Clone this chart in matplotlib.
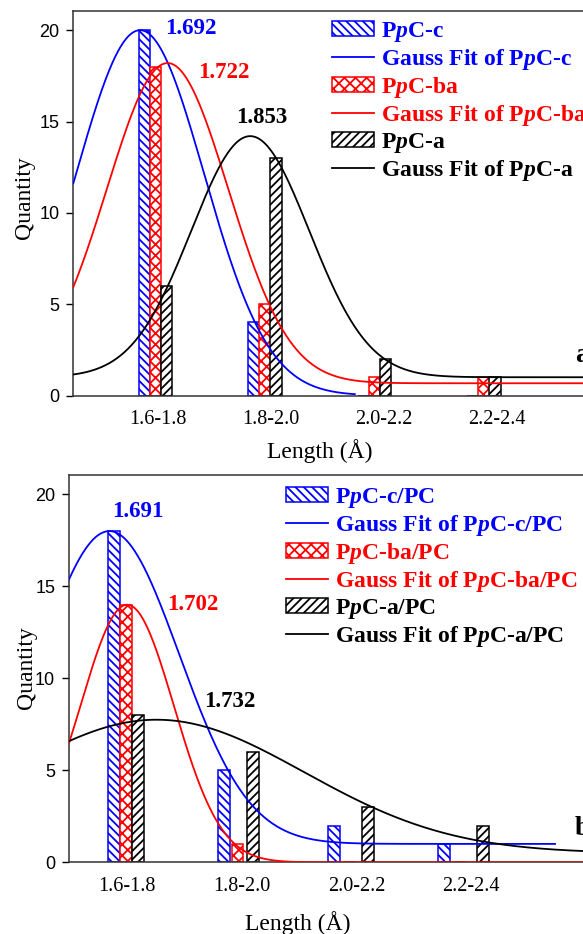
import numpy as np
import matplotlib
matplotlib.use('Agg')
import matplotlib.pyplot as plt

plt.rcParams['font.family'] = 'Liberation Serif'
plt.rcParams['mathtext.fontset'] = 'custom'
plt.rcParams['mathtext.it'] = 'Liberation Serif:italic:bold'
plt.rcParams['mathtext.rm'] = 'Liberation Serif:bold'
plt.rcParams['hatch.linewidth'] = 1.3

# bond length bins (Angstrom) and their centres
bins = ['1.6-1.8', '1.8-2.0', '2.0-2.2', '2.2-2.4']
bin_centers = [1.7, 1.9, 2.1, 2.3]

# panel a: counts per bin
a_names = ['P$p$C-c', 'P$p$C-ba', 'P$p$C-a']
a_counts_c = [20, 4, 0, 0]
a_counts_ba = [18, 5, 1, 1]
a_counts_a = [6, 13, 2, 1]
# panel a: Gauss fit parameters (centre, sigma, height, offset)
a_fit_xc = [1.692, 1.722, 1.853]
a_fit_w = [0.117, 0.111, 0.108]
a_fit_A = [20.0, 17.53, 13.2]
a_fit_y0 = [0.0, 0.67, 1.0]

# panel b
b_names = ['P$p$C-c/PC', 'P$p$C-ba/PC', 'P$p$C-a/PC']
b_counts_c = [18, 5, 2, 1]
b_counts_ba = [14, 1, 0, 0]
b_counts_a = [8, 6, 3, 2]
b_fit_xc = [1.691, 1.702, 1.732]
b_fit_w = [0.127, 0.084, 0.257]
b_fit_A = [17.0, 14.0, 7.25]
b_fit_y0 = [1.0, 0.0, 0.5]

colors = ['#0000ff', '#ff0000', '#000000']
hatches = ['\\\\\\\\', 'xxx', '////']


def gauss(L, xc, w, A, y0):
    return y0 + A * np.exp(-(L - xc) ** 2 / (2 * w ** 2))


def draw_panel(ax, counts, names, fit_xc, fit_w, fit_A, fit_y0,
               shifts, steps, xlim, curve_end, tick_start, tick_step,
               peak_pos, tag, tag_xy, leg_xy):
    ax.set_xlim(*xlim)
    ax.set_ylim(0, 21.05)
    bw = 0.102
    handles = []
    for k in range(3):
        xs = shifts[k] + steps[k] * (np.array(bin_centers) - 1.7) / 0.2
        bars = ax.bar(xs, counts[k], width=bw, facecolor='white',
                      edgecolor=colors[k], hatch=hatches[k], linewidth=1.1,
                      zorder=2)
        xx = np.linspace(xlim[0], curve_end[k], 600)
        L = 1.7 + 0.2 * (xx - shifts[k]) / steps[k]
        line, = ax.plot(xx, gauss(L, fit_xc[k], fit_w[k], fit_A[k], fit_y0[k]),
                        color=colors[k], lw=1.3, zorder=3)
        handles += [bars, line]
        ax.text(peak_pos[k][0], peak_pos[k][1], f'{fit_xc[k]:.3f}',
                color=colors[k], fontsize=16.5, fontweight='bold',
                ha='center', va='center')

    labels = []
    for n in names:
        labels += [n, 'Gauss Fit of ' + n]
    leg = ax.legend(handles, labels, loc='upper left', bbox_to_anchor=leg_xy,
                    bbox_transform=ax.figure.transFigure, frameon=False,
                    borderpad=0, borderaxespad=0, handlelength=1.78,
                    handleheight=0.6, handletextpad=0.3, labelspacing=0.13,
                    prop={'family': 'Liberation Serif', 'weight': 'bold',
                          'size': 17})
    for t, c in zip(leg.get_texts(), [c for c in colors for _ in (0, 1)]):
        t.set_color(c)

    ax.set_xticks(tick_start + tick_step * np.arange(len(bins)))
    ax.set_xticklabels(bins, fontsize=14.5)
    ax.tick_params(axis='x', length=0, pad=10.5)
    ax.set_yticks([0, 5, 10, 15, 20])
    ax.tick_params(axis='y', direction='out', length=4.8, width=1.0, pad=5,
                   labelsize=13)
    for t in ax.get_yticklabels():
        t.set_family('Liberation Sans')
    for s in ax.spines.values():
        s.set_linewidth(1.1)
        s.set_color('#333333')

    ax.figure.text(tag_xy[0], tag_xy[1], tag, fontsize=20, fontweight='bold',
                   ha='left', va='baseline')


fig = plt.figure(figsize=(5.83, 9.34), dpi=100)
W, H = 583, 934

ax1 = fig.add_axes([73.3 / W, (H - 395.5) / H, (640 - 73.3) / W, (395.5 - 11) / H])
draw_panel(ax1, [a_counts_c, a_counts_ba, a_counts_a], a_names,
           a_fit_xc, a_fit_w, a_fit_A, a_fit_y0,
           shifts=[-0.101, 0.0, 0.1], steps=[1.0, 1.0, 1.0],
           xlim=(-0.751, 4.425), curve_end=[1.82, 4.425, 4.425],
           tick_start=0.02, tick_step=1.033,
           peak_pos=[(0.324, 20.08), (0.626, 17.69), (0.970, 15.23)],
           tag='a', tag_xy=(575 / W, 1 - 361.7 / H),
           leg_xy=(331.7 / W, 1 - 19.5 / H))
ax1.set_ylabel('Quantity', fontsize=17, va='center')
ax1.yaxis.set_label_coords((25 - 73.3) / 566.7, (395.5 - 197.5) / 384.5)
ax1.set_xlabel('Length (Å)', fontsize=17)
ax1.xaxis.set_label_coords((320 - 73.3) / 566.7, (395.5 - 439) / 384.5)

ax2 = fig.add_axes([68.8 / W, (H - 862.3) / H, (640 - 68.8) / W, (862.3 - 475) / H])
draw_panel(ax2, [b_counts_c, b_counts_ba, b_counts_a], b_names,
           b_fit_xc, b_fit_w, b_fit_A, b_fit_y0,
           shifts=[-0.102, 0.0, 0.105], steps=[0.958, 0.972, 1.0026],
           xlim=(-0.499, 4.481), curve_end=[3.74, 4.481, 4.481],
           tick_start=0.01, tick_step=1.0,
           peak_pos=[(0.105, 19.09), (0.584, 14.0), (0.907, 8.74)],
           tag='b', tag_xy=(575 / W, 1 - 835 / H),
           leg_xy=(285.5 / W, 1 - 486 / H))
ax2.set_ylabel('Quantity', fontsize=17, va='center')
ax2.yaxis.set_label_coords((26 - 68.8) / 571.2, (862.3 - 667.5) / 387.3)
ax2.set_xlabel('Length (Å)', fontsize=17)
ax2.xaxis.set_label_coords((298 - 68.8) / 571.2, (862.3 - 911) / 387.3)

fig.savefig('out.png', dpi=100)
